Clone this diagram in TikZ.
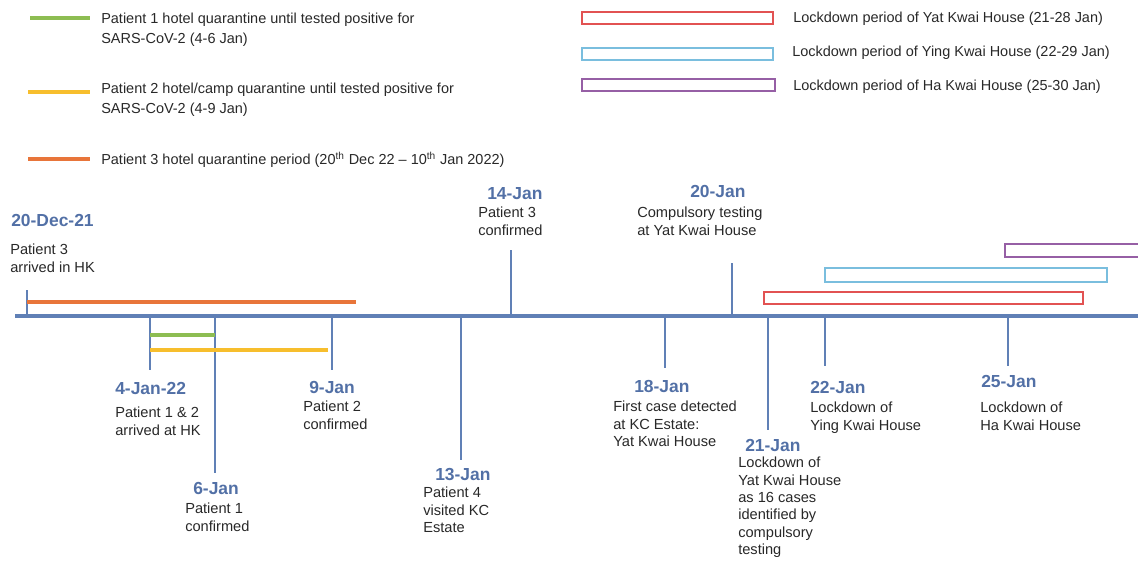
\documentclass[tikz,border=0pt]{standalone}
\usepackage{fontspec}
\setmainfont{Liberation Sans}
\usetikzlibrary{positioning}

\definecolor{axisblue}{RGB}{96,128,182}
\definecolor{dateblue}{RGB}{82,112,166}
\definecolor{qgreen}{RGB}{141,189,82}
\definecolor{qyellow}{RGB}{247,190,45}
\definecolor{qorange}{RGB}{232,117,58}
\definecolor{lockred}{RGB}{226,82,82}
\definecolor{lockblue}{RGB}{122,190,222}
\definecolor{lockpurple}{RGB}{150,95,165}
\definecolor{txtgray}{RGB}{40,40,40}

\begin{document}
\begin{tikzpicture}[
  x=0.025cm, y=-0.025cm,
  note/.style={font=\fontsize{10.4}{12.3}\selectfont, text=txtgray, align=left, inner sep=0pt, anchor=north west},
  legendtxt/.style={note, font=\fontsize{10.3}{13.7}\selectfont},
  datelbl/.style={font=\fontsize{12.4}{15}\selectfont\bfseries, text=dateblue, inner sep=0pt, anchor=north west},
  axisline/.style={draw=axisblue, line width=2.2pt},
  tickline/.style={draw=axisblue, line width=2pt},
  bar/.style={line width=3.5pt},
  lockbox/.style={line width=1pt}
]
\useasboundingbox (0,0) rectangle (1138,563);

% Legend, quarantine bars.
\draw[bar, qgreen] (30,18) -- (90,18);
\node[legendtxt] (lgreen) at (101,13)
  {Patient 1 hotel quarantine until tested positive for\\SARS-CoV-2 (4-6 Jan)};
\draw[bar, qyellow] (28,92) -- (90,92);
\node[legendtxt] (lyellow) at (101,83)
  {Patient 2 hotel/camp quarantine until tested positive for\\SARS-CoV-2 (4-9 Jan)};
\draw[bar, qorange] (28,159) -- (90,159);
\node[legendtxt] (lorange) at (101,152)
  {Patient 3 hotel quarantine period (20\textsuperscript{th} Dec 22 -- 10\textsuperscript{th} Jan 2022)};

% Legend, lockdown boxes.
\draw[lockbox, lockred] (582,12) rectangle (773,24);
\node[legendtxt] (lred) at (793,12) {Lockdown period of Yat Kwai House (21-28 Jan)};
\draw[lockbox, lockblue] (582,48) rectangle (773,60);
\node[legendtxt] (lblue) at (792,46) {Lockdown period of Ying Kwai House (22-29 Jan)};
\draw[lockbox, lockpurple] (582,79) rectangle (775,91);
\node[legendtxt] (lpurple) at (793,80) {Lockdown period of Ha Kwai House (25-30 Jan)};

% Time axis and ticks.
\draw[axisline] (15,316) -- (1138,316);
\foreach \name/\x in {dec20/27, jan04/150, jan06/215, jan09/332, jan13/461, jan14/511,
                      jan18/665, jan20/732, jan21/768, jan22/825, jan25/1008}
  \coordinate (\name) at (\x,316);

\draw[tickline] (dec20) -- ++(0,-26);
\draw[tickline] (jan04) -- ++(0,54);
\draw[tickline] (jan06) -- ++(0,157);
\draw[tickline] (jan09) -- ++(0,54);
\draw[tickline] (jan13) -- ++(0,144);
\draw[tickline] (jan14) -- ++(0,-66);
\draw[tickline] (jan18) -- ++(0,52);
\draw[tickline] (jan20) -- ++(0,-53);
\draw[tickline] (jan21) -- ++(0,114);
\draw[tickline] (jan22) -- ++(0,50);
\draw[tickline] (jan25) -- ++(0,50);

% Quarantine periods on the axis.
\draw[bar, qorange] (27,302) -- (356,302);
\draw[bar, qgreen] (150,335) -- (215,335);
\draw[bar, qyellow] (150,350) -- (328,350);

% Lockdown periods on the axis.
\draw[lockbox, lockred] (764,292) rectangle (1083,304);
\draw[lockbox, lockblue] (825,268) rectangle (1107,282);
\draw[lockbox, lockpurple] (1138,244) -- (1005,244) -- (1005,257) -- (1138,257);

% Events above the axis.
\node[datelbl] (ddec20) at (11,214) {20-Dec-21};
\node[note] (ndec20) at (10,244) {Patient 3\\arrived in HK};
\node[datelbl] (djan14) at (487,187) {14-Jan};
\node[note] (njan14) at (478,207) {Patient 3\\confirmed};
\node[datelbl] (djan20) at (690,185) {20-Jan};
\node[note] (njan20) at (637,207) {Compulsory testing\\at Yat Kwai House};

% Events below the axis.
\node[datelbl] (djan04) at (115,382) {4-Jan-22};
\node[note] (njan04) at (115,407) {Patient 1 \& 2\\arrived at HK};
\node[datelbl] (djan09) at (309,381) {9-Jan};
\node[note] (njan09) at (303,401) {Patient 2\\confirmed};
\node[datelbl] (djan06) at (193,482) {6-Jan};
\node[note] (njan06) at (185,503) {Patient 1\\confirmed};
\node[datelbl] (djan13) at (435,468) {13-Jan};
\node[note] (njan13) at (423,487) {Patient 4\\visited KC\\Estate};
\node[datelbl] (djan18) at (634,380) {18-Jan};
\node[note] (njan18) at (613,401) {First case detected\\at KC Estate:\\Yat Kwai House};
\node[datelbl] (djan21) at (745,439) {21-Jan};
\node[note] (njan21) at (738,457)
  {Lockdown of\\Yat Kwai House\\as 16 cases\\identified by\\compulsory\\testing};
\node[datelbl] (djan22) at (810,381) {22-Jan};
\node[note] (njan22) at (810,402) {Lockdown of\\Ying Kwai House};
\node[datelbl] (djan25) at (981,375) {25-Jan};
\node[note] (njan25) at (980,402) {Lockdown of\\Ha Kwai House};

\end{tikzpicture}
\end{document}
